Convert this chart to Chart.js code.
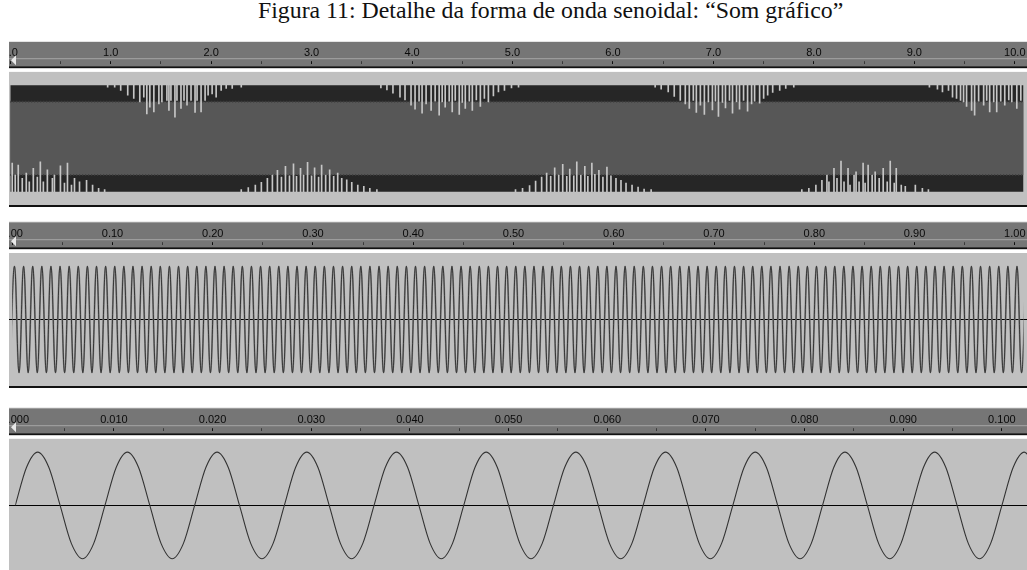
<!DOCTYPE html>
<html>
<head>
<meta charset="utf-8">
<script src="https://cdn.jsdelivr.net/npm/chart.js@4.4.1/dist/chart.umd.min.js"></script>
<style>
  html, body { margin: 0; padding: 0; background: #fff; }
  body { width: 1027px; height: 570px; position: relative; overflow: hidden; }
  #title { position: absolute; left: 258px; top: -3px;
           font-family: "Liberation Serif", "Times New Roman", serif; font-size: 23.8px;
           line-height: 27px; color: #111; white-space: nowrap; }
  canvas { position: absolute; left: 0; }
</style>
</head>
<body>
<div id="title">Figura 11: Detalhe da forma de onda senoidal: “Som gráfico”</div>
<canvas id="overview"></canvas>
<canvas id="oneSecond"></canvas>
<canvas id="detail"></canvas>
<script>
// ---- Overview, 0 to 10 s: peak envelope, RMS envelope and the light column gaps ----
const overviewTimes = [0, 10.09];
const overviewPeak = [0.8, 0.8];
const overviewRms = [0.55, 0.55];

const topGapTimes = [
  0.97, 1.04, 1.10, 1.17, 1.23, 1.29, 1.33, 1.36, 1.39, 1.43, 1.48, 1.51, 1.56, 1.58, 1.60, 1.64,
  1.66, 1.70, 1.73, 1.76, 1.80, 1.84, 1.86, 1.90, 1.94, 1.97, 2.01, 2.05, 2.10, 2.15, 2.21, 2.30,
  3.69, 3.75, 3.81, 3.88, 3.93, 3.99, 4.03, 4.07, 4.10, 4.14, 4.19, 4.23, 4.27, 4.30, 4.33, 4.37,
  4.40, 4.43, 4.47, 4.50, 4.53, 4.57, 4.60, 4.64, 4.68, 4.72, 4.76, 4.81, 4.86, 4.92, 4.99, 5.06,
  6.42, 6.48, 6.55, 6.61, 6.67, 6.72, 6.76, 6.80, 6.83, 6.87, 6.91, 6.95, 6.99, 7.02, 7.05, 7.09,
  7.12, 7.16, 7.19, 7.23, 7.26, 7.30, 7.34, 7.38, 7.41, 7.46, 7.50, 7.54, 7.59, 7.66, 7.72, 7.80,
  9.15, 9.23, 9.28, 9.34, 9.38, 9.42, 9.46, 9.49, 9.52, 9.57, 9.60, 9.64, 9.69, 9.72, 9.75, 9.79,
  9.82, 9.86, 9.90, 9.94, 9.97, 10.02, 10.06
];
const topGapTips = [
  0.77, 0.77, 0.72, 0.65, 0.60, 0.55, 0.62, 0.37, 0.47, 0.40, 0.52, 0.55, 0.57, 0.42, 0.57, 0.32,
  0.57, 0.45, 0.57, 0.50, 0.57, 0.39, 0.57, 0.40, 0.57, 0.65, 0.67, 0.62, 0.72, 0.75, 0.75, 0.77,
  0.76, 0.73, 0.68, 0.62, 0.58, 0.50, 0.44, 0.56, 0.38, 0.52, 0.42, 0.56, 0.35, 0.55, 0.47, 0.56,
  0.40, 0.57, 0.36, 0.54, 0.45, 0.56, 0.42, 0.58, 0.48, 0.60, 0.55, 0.64, 0.70, 0.72, 0.76, 0.77,
  0.77, 0.74, 0.70, 0.63, 0.57, 0.52, 0.45, 0.57, 0.39, 0.50, 0.36, 0.55, 0.43, 0.56, 0.33, 0.54,
  0.46, 0.57, 0.38, 0.55, 0.44, 0.57, 0.41, 0.52, 0.56, 0.53, 0.60, 0.65, 0.69, 0.72, 0.75, 0.77,
  0.77, 0.74, 0.70, 0.72, 0.62, 0.60, 0.57, 0.55, 0.48, 0.42, 0.35, 0.56, 0.50, 0.57, 0.40, 0.55,
  0.40, 0.56, 0.50, 0.58, 0.55, 0.45, 0.57
];
const bottomGapTimes = [
  0.02, 0.05, 0.08, 0.12, 0.16, 0.19, 0.23, 0.27, 0.30, 0.33, 0.37, 0.42, 0.44, 0.50, 0.54, 0.57,
  0.61, 0.64, 0.69, 0.76, 0.82, 0.88, 0.94,
  2.30, 2.37, 2.44, 2.50, 2.56, 2.61, 2.66, 2.70, 2.74, 2.78, 2.82, 2.85, 2.89, 2.92, 2.96, 3.00,
  3.03, 3.07, 3.10, 3.14, 3.18, 3.22, 3.26, 3.30, 3.35, 3.40, 3.46, 3.52, 3.58, 3.65,
  5.03, 5.10, 5.17, 5.23, 5.29, 5.34, 5.38, 5.42, 5.46, 5.50, 5.54, 5.57, 5.61, 5.64, 5.68, 5.72,
  5.75, 5.79, 5.82, 5.86, 5.90, 5.94, 5.98, 6.03, 6.08, 6.13, 6.19, 6.25, 6.31, 6.38,
  7.88, 7.95, 8.02, 8.08, 8.13, 8.15, 8.20, 8.23, 8.27, 8.30, 8.34, 8.36, 8.40, 8.42, 8.45, 8.49,
  8.51, 8.54, 8.58, 8.61, 8.65, 8.69, 8.73, 8.76, 8.80, 8.82, 8.87, 8.91, 9.01, 9.08, 9.14
];
const bottomGapTips = [
  -0.37, -0.55, -0.40, -0.60, -0.52, -0.65, -0.45, -0.58, -0.35, -0.65, -0.47, -0.60, -0.55, -0.41, -0.67, -0.37,
  -0.70, -0.60, -0.65, -0.63, -0.70, -0.75, -0.77,
  -0.77, -0.74, -0.70, -0.66, -0.60, -0.55, -0.48, -0.58, -0.42, -0.56, -0.38, -0.57, -0.45, -0.55, -0.36, -0.56,
  -0.44, -0.58, -0.40, -0.55, -0.47, -0.57, -0.52, -0.60, -0.62, -0.66, -0.70, -0.72, -0.75, -0.77,
  -0.77, -0.75, -0.71, -0.64, -0.58, -0.52, -0.57, -0.44, -0.55, -0.39, -0.57, -0.46, -0.56, -0.35, -0.55, -0.42,
  -0.57, -0.37, -0.54, -0.48, -0.58, -0.43, -0.56, -0.60, -0.63, -0.67, -0.70, -0.73, -0.76, -0.77,
  -0.77, -0.75, -0.70, -0.63, -0.55, -0.65, -0.45, -0.60, -0.34, -0.65, -0.45, -0.70, -0.55, -0.50, -0.65, -0.37,
  -0.67, -0.40, -0.55, -0.50, -0.60, -0.45, -0.65, -0.34, -0.67, -0.45, -0.70, -0.72, -0.70, -0.75, -0.77
];

// ---- One second of the 110 Hz tone: crest and trough of every half cycle ----
const waveStart = -0.00227;
const waveStep = 0.004545;
const waveValues = [
  -0.8, 0.8, -0.8, 0.8, -0.8, 0.8, -0.8, 0.8, -0.8, 0.8, -0.8, 0.8, -0.8, 0.8, -0.8, 0.8,
  -0.8, 0.8, -0.8, 0.8, -0.8, 0.8, -0.8, 0.8, -0.8, 0.8, -0.8, 0.8, -0.8, 0.8, -0.8, 0.8,
  -0.8, 0.8, -0.8, 0.8, -0.8, 0.8, -0.8, 0.8, -0.8, 0.8, -0.8, 0.8, -0.8, 0.8, -0.8, 0.8,
  -0.8, 0.8, -0.8, 0.8, -0.8, 0.8, -0.8, 0.8, -0.8, 0.8, -0.8, 0.8, -0.8, 0.8, -0.8, 0.8,
  -0.8, 0.8, -0.8, 0.8, -0.8, 0.8, -0.8, 0.8, -0.8, 0.8, -0.8, 0.8, -0.8, 0.8, -0.8, 0.8,
  -0.8, 0.8, -0.8, 0.8, -0.8, 0.8, -0.8, 0.8, -0.8, 0.8, -0.8, 0.8, -0.8, 0.8, -0.8, 0.8,
  -0.8, 0.8, -0.8, 0.8, -0.8, 0.8, -0.8, 0.8, -0.8, 0.8, -0.8, 0.8, -0.8, 0.8, -0.8, 0.8,
  -0.8, 0.8, -0.8, 0.8, -0.8, 0.8, -0.8, 0.8, -0.8, 0.8, -0.8, 0.8, -0.8, 0.8, -0.8, 0.8,
  -0.8, 0.8, -0.8, 0.8, -0.8, 0.8, -0.8, 0.8, -0.8, 0.8, -0.8, 0.8, -0.8, 0.8, -0.8, 0.8,
  -0.8, 0.8, -0.8, 0.8, -0.8, 0.8, -0.8, 0.8, -0.8, 0.8, -0.8, 0.8, -0.8, 0.8, -0.8, 0.8,
  -0.8, 0.8, -0.8, 0.8, -0.8, 0.8, -0.8, 0.8, -0.8, 0.8, -0.8, 0.8, -0.8, 0.8, -0.8, 0.8,
  -0.8, 0.8, -0.8, 0.8, -0.8, 0.8, -0.8, 0.8, -0.8, 0.8, -0.8, 0.8, -0.8, 0.8, -0.8, 0.8,
  -0.8, 0.8, -0.8, 0.8, -0.8, 0.8, -0.8, 0.8, -0.8, 0.8, -0.8, 0.8, -0.8, 0.8, -0.8, 0.8,
  -0.8, 0.8, -0.8, 0.8, -0.8, 0.8, -0.8, 0.8, -0.8, 0.8, -0.8, 0.8, -0.8, 0.8, -0.8, 0.8
];

// ---- First 0.1 s of the tone: eight samples per cycle ----
const detailStart = 0;
const detailStep = 0.0011364;
const detailValues = [
  0, 0.57, 0.8, 0.57, 0, -0.57, -0.8, -0.57,
  0, 0.57, 0.8, 0.57, 0, -0.57, -0.8, -0.57,
  0, 0.57, 0.8, 0.57, 0, -0.57, -0.8, -0.57,
  0, 0.57, 0.8, 0.57, 0, -0.57, -0.8, -0.57,
  0, 0.57, 0.8, 0.57, 0, -0.57, -0.8, -0.57,
  0, 0.57, 0.8, 0.57, 0, -0.57, -0.8, -0.57,
  0, 0.57, 0.8, 0.57, 0, -0.57, -0.8, -0.57,
  0, 0.57, 0.8, 0.57, 0, -0.57, -0.8, -0.57,
  0, 0.57, 0.8, 0.57, 0, -0.57, -0.8, -0.57,
  0, 0.57, 0.8, 0.57, 0, -0.57, -0.8, -0.57,
  0, 0.57, 0.8, 0.57, 0, -0.57, -0.8, -0.57,
  0, 0.57, 0.8, 0.57
];

// ---- helpers ----
const pts = (xs, ys) => xs.map((x, i) => ({ x, y: ys[i] }));
const regular = (start, step, ys) => ys.map((y, i) => ({ x: start + i * step, y }));
const neg = (ys) => ys.map(v => -v);

const RULER = '#767676';
const BOX = '#c0c0c0';

// Audacity-like track frame: time ruler on top, grey track box underneath
function framePlugin(geo) {
  return {
    id: 'trackFrame',
    beforeDraw(chart) {
      const { ctx, chartArea: ca, scales: { y } } = chart;
      const W = chart.width, H = chart.height;
      const L = 9;
      const rTop = geo.rulerTop - geo.canvasTop;
      ctx.save();
      ctx.fillStyle = '#fff';
      ctx.fillRect(0, 0, W, H);
      ctx.fillStyle = '#e4e4e4';
      ctx.fillRect(L, rTop - 1, W - L, 1);
      ctx.fillStyle = RULER;
      ctx.fillRect(L, rTop, W - L, ca.top + 2 - rTop);
      ctx.fillStyle = '#a6a6a6';
      ctx.fillRect(L, ca.top - 6, W - L, 1);
      ctx.fillStyle = '#111';
      ctx.fillRect(L, ca.top + 2, W - L, 2);
      const bt = y.getPixelForValue(1), bb = y.getPixelForValue(-1);
      ctx.fillStyle = BOX;
      ctx.fillRect(L, bt, W - L, bb - bt);
      ctx.fillStyle = '#111';
      ctx.fillRect(L, bb, W - L, 2);
      ctx.restore();
    },
    beforeDatasetsDraw(chart) {
      if (!geo.zeroLine) return;
      const { ctx, scales: { y } } = chart;
      const y0 = Math.round(y.getPixelForValue(0)) + 0.5;
      ctx.save();
      ctx.strokeStyle = '#000';
      ctx.lineWidth = 1;
      ctx.beginPath();
      ctx.moveTo(9, y0);
      ctx.lineTo(chart.width, y0);
      ctx.stroke();
      ctx.restore();
    },
    afterDraw(chart) {
      const { ctx, chartArea: ca } = chart;
      ctx.save();
      ctx.fillStyle = '#fff';
      ctx.fillRect(0, 0, 9, chart.height);
      // play-position marker at the start of the ruler
      ctx.fillStyle = '#e8e8e8';
      ctx.beginPath();
      ctx.moveTo(11, ca.top - 4);
      ctx.lineTo(16, ca.top - 9);
      ctx.lineTo(16, ca.top + 1);
      ctx.closePath();
      ctx.fill();
      ctx.restore();
    }
  };
}

function trackChart(id, geo, axis, datasets) {
  const canvas = document.getElementById(id);
  canvas.width = 1027;
  canvas.height = geo.height;
  canvas.style.top = geo.canvasTop + 'px';
  const unit = (geo.boxBottom - geo.boxTop) / 2;
  const yMax = 1 + (geo.boxTop - geo.tickBottom) / unit;
  const yMin = -1 - (geo.canvasTop + geo.height - geo.boxBottom) / unit;
  const isMajor = v => {
    const k = v / (2 * axis.step);
    return Math.abs(k - Math.round(k)) < 1e-6;
  };
  return new Chart(canvas, {
    type: 'line',
    data: { datasets },
    options: {
      responsive: false,
      animation: false,
      events: [],
      layout: {
        autoPadding: false,
        padding: { left: geo.left, right: 0, top: geo.tickBottom - 19 - geo.canvasTop, bottom: 0 }
      },
      plugins: { legend: { display: false }, tooltip: { enabled: false } },
      elements: { point: { radius: 0 } },
      scales: {
        x: {
          type: 'linear', position: 'top', offset: false,
          min: 0, max: (1027 - geo.left) / axis.pxPerUnit,
          border: { display: false },
          grid: {
            offset: false, drawOnChartArea: false, drawTicks: true, tickLength: 3, tickWidth: 1,
            tickColor: c => (c.tick && !isMajor(c.tick.value)) ? '#3a3a3a' : '#111'
          },
          ticks: {
            stepSize: axis.step, includeBounds: false, autoSkip: false,
            maxRotation: 0, minRotation: 0, padding: 1.5, color: '#0a0a0a',
            font: { family: 'Liberation Sans', size: 11 },
            callback: v => isMajor(v) ? Number(v).toFixed(axis.decimals) : ''
          }
        },
        y: { display: false, min: yMin, max: yMax }
      }
    },
    plugins: [framePlugin(geo)]
  });
}

// ---- Panel 1: 10 s overview ----
trackChart('overview',
  { canvasTop: 41, height: 167, rulerTop: 42, tickBottom: 64, boxTop: 71.7, boxBottom: 205, left: 10.2, zeroLine: false },
  { pxPerUnit: 100.8, step: 0.5, decimals: 1 },
  [
    { data: pts(overviewTimes, overviewPeak), borderWidth: 0, fill: false, order: 4 },
    { data: pts(overviewTimes, neg(overviewPeak)), borderWidth: 0, fill: '-1', backgroundColor: '#262626', order: 4 },
    { data: pts(overviewTimes, overviewRms), borderWidth: 2, borderColor: '#3e3e3e', borderDash: [1, 2], fill: false, order: 3 },
    { data: pts(overviewTimes, neg(overviewRms)), borderWidth: 2, borderColor: '#3e3e3e', borderDash: [1, 2], fill: '-1', backgroundColor: '#575757', order: 3 },
    { type: 'bar', grouped: false, barThickness: 1, borderWidth: 0, backgroundColor: '#c6c6c6', order: 1,
      data: topGapTimes.map((t, i) => ({ x: t, y: [topGapTips[i], overviewPeak[0]] })) },
    { type: 'bar', grouped: false, barThickness: 1, borderWidth: 0, backgroundColor: '#c6c6c6', order: 1,
      data: bottomGapTimes.map((t, i) => ({ x: t, y: [-overviewPeak[0], bottomGapTips[i]] })) }
  ]);

// ---- Panel 2: one second ----
trackChart('oneSecond',
  { canvasTop: 221, height: 168, rulerTop: 222.3, tickBottom: 245, boxTop: 252.8, boxBottom: 386, left: 10.2, zeroLine: true },
  { pxPerUnit: 1008, step: 0.05, decimals: 2 },
  [
    { data: regular(waveStart, waveStep, waveValues), borderColor: '#868686', borderWidth: 1.8, tension: 0.4, fill: false, order: 2 },
    { data: regular(waveStart, waveStep, waveValues), borderColor: '#222', borderWidth: 0.8, tension: 0.4, fill: false, order: 1 }
  ]);

// ---- Panel 3: first 0.1 s ----
trackChart('detail',
  { canvasTop: 407, height: 163, rulerTop: 408.3, tickBottom: 431, boxTop: 438.6, boxBottom: 572, left: 9.03, zeroLine: true },
  { pxPerUnit: 9927, step: 0.005, decimals: 3 },
  [
    { data: regular(detailStart, detailStep, detailValues), borderColor: '#333', borderWidth: 1.1,
      cubicInterpolationMode: 'monotone', fill: false }
  ]);
</script>
</body>
</html>
